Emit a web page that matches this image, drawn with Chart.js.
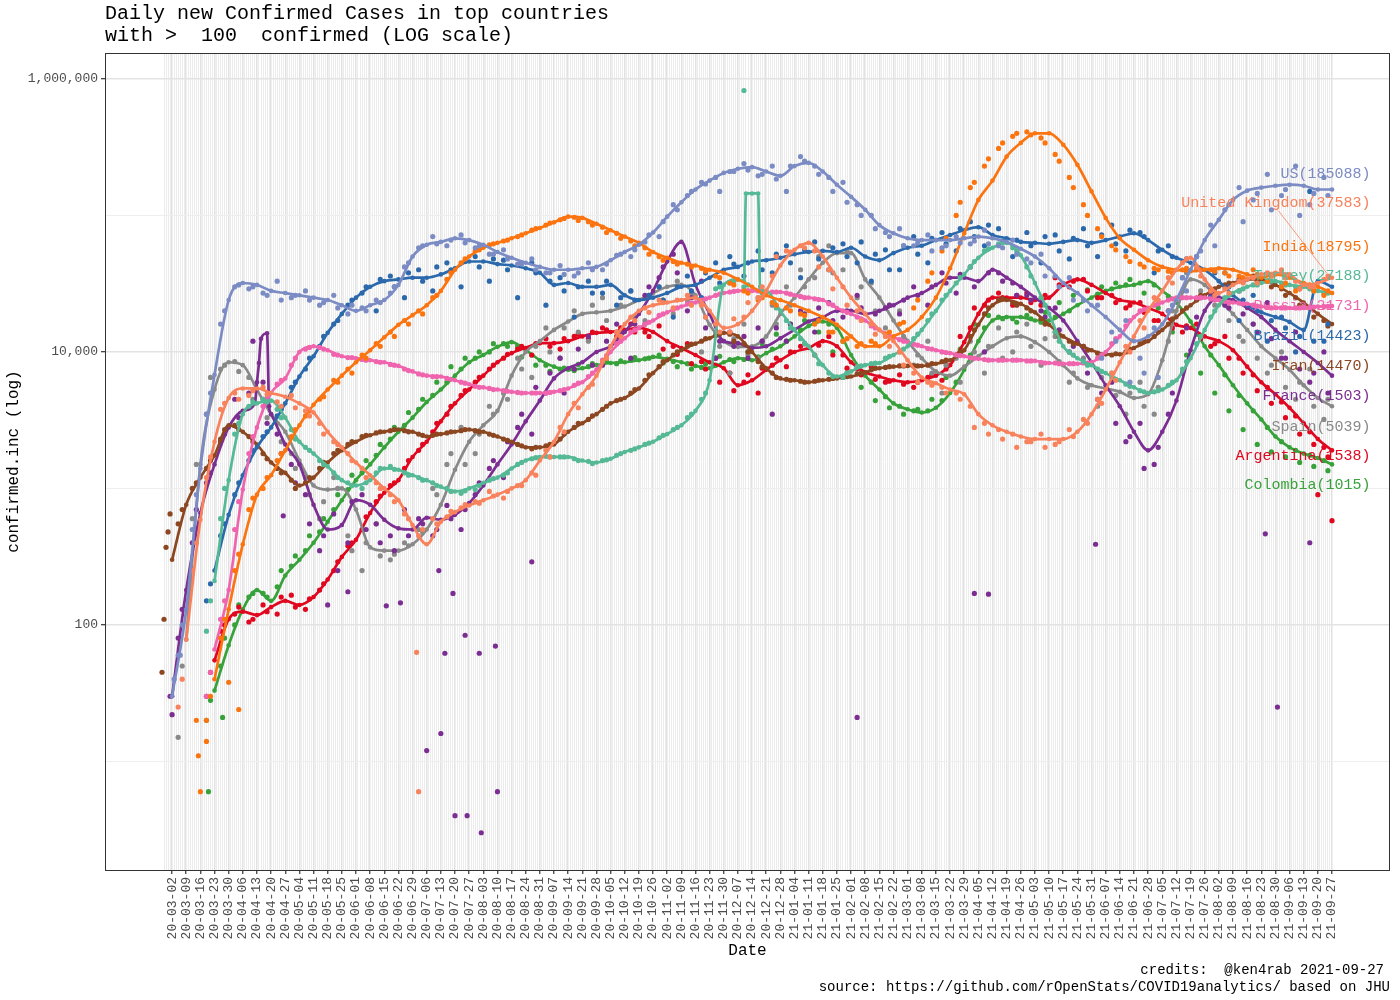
<!DOCTYPE html>
<html>
<head>
<meta charset="utf-8">
<title>Daily new Confirmed Cases in top countries</title>
<script src="https://cdn.jsdelivr.net/npm/chart.js@4.4.1/dist/chart.umd.min.js"></script>
<style>
  html, body { margin: 0; padding: 0; background: #fff; }
  #wrap { width: 1400px; height: 1000px; }
</style>
</head>
<body>
<div id="wrap"><canvas id="myChart" width="1400" height="1000"></canvas></div>
<script>
// countries and the value printed after their name (last day)
const countries = ['US', 'United Kingdom', 'India', 'Turkey', 'Russia', 'Brazil', 'Iran', 'France', 'Spain', 'Argentina', 'Colombia'];
const lastValues = [185088, 37583, 18795, 27188, 21731, 14423, 14470, 1503, 5039, 1538, 1015];

// day 0 = 2020-03-02 ; smoothed lines read weekly, dots read twice a week
const weekDays = Array.from({length: 83}, (_, k) => k * 7);
const dotDays = Array.from({length: 82}, (_, k) => 3 + k * 7);
const dotDays2 = Array.from({length: 82}, (_, k) => 5 + k * 7);

const usLine = [30, 130, 1400, 6800, 24000, 32000, 31000, 28000, 27000, 26000,
  25000, 24000, 22000, 20000, 22000, 24000, 31000, 50000, 61000, 64000,
  68000, 66000, 61000, 54000, 49000, 45000, 42000, 40000, 40000, 41000,
  42000, 47000, 54000, 61000, 75000, 98000, 125000, 155000, 180000, 205000,
  220000, 226000, 210000, 195000, 230000, 243000, 210000, 168000, 137000, 110000,
  85000, 74000, 68000, 66000, 66000, 66000, 68000, 70000, 68000, 64000,
  57000, 50000, 41000, 32000, 27000, 22000, 18000, 14500, 12000, 13000,
  16000, 24000, 40000, 66000, 93000, 130000, 152000, 160000, 165000, 168000,
  165000, 155000, 155000];
const ukLine = [null, 78, 590, 2200, 4600, 5400, 5400, 5000, 4700, 4200,
  3600, 2600, 2000, 1550, 1250, 1000, 820, 540, 390, 570,
  670, 750, 820, 900, 1000, 1150, 1600, 2200, 3500, 4900,
  6700, 11000, 16000, 20000, 22000, 23000, 24000, 25000, 20000, 15000,
  16000, 20000, 28000, 43000, 56000, 63000, 50000, 35000, 25000, 19000,
  14500, 12000, 8700, 6500, 5900, 5300, 4900, 3500, 2900, 2600,
  2400, 2300, 2300, 2300, 2600, 3500, 5300, 8400, 13000, 20000,
  28000, 40000, 49000, 34000, 27000, 31000, 34000, 37000, 38000, 37000,
  31000, 32000, 35000];
const indiaLine = [null, null, null, 40, 130, 390, 900, 1250, 1900, 2900,
  4100, 5300, 6700, 8400, 10300, 12800, 15800, 18600, 22000, 28000,
  40000, 50000, 58000, 63000, 68000, 74000, 81000, 89000, 98000, 96000,
  87000, 78000, 70000, 63000, 54000, 49000, 45000, 43000, 40000, 38000,
  34000, 30000, 26000, 24000, 22000, 20000, 18000, 15800, 13000, 11000,
  11000, 13000, 14500, 18000, 25000, 41000, 74000, 130000, 180000, 270000,
  340000, 400000, 400000, 330000, 235000, 150000, 96000, 68000, 56000, 47000,
  42000, 40000, 39000, 40000, 41000, 40000, 37000, 35000, 37000, 35000,
  32000, 30000, 27000];
const turkeyLine = [null, null, null, 210, 1150, 3500, 4200, 4400, 3300, 2200,
  1800, 1450, 1150, 1050, 1150, 1400, 1370, 1250, 1150, 1030,
  950, 1000, 1100, 1200, 1400, 1600, 1700, 1700, 1700, 1600,
  1550, 1650, 1850, 2000, 2200, 2500, 2900, 3700, 6200, 31000,
  34000, 145000, 28000, 20000, 14500, 11000, 8000, 6600, 7200, 8000,
  8300, 9500, 11000, 14500, 20000, 28000, 37000, 49000, 58000, 63000,
  51000, 32000, 19000, 11000, 9000, 8000, 7000, 6200, 5500, 5000,
  5300, 6200, 9000, 14500, 22000, 27000, 30000, 32000, 33000, 31000,
  30000, 28000, 27000];
const russiaLine = [null, null, null, 66, 180, 980, 2800, 5000, 6400, 10000,
  11000, 10300, 9300, 9000, 8700, 8400, 7900, 7200, 6700, 6600,
  6200, 5800, 5500, 5300, 5100, 5000, 5000, 5100, 5400, 6000,
  7400, 10000, 12600, 15000, 17000, 19500, 21500, 23000, 25000, 27000,
  28000, 28000, 27500, 27500, 26000, 25000, 24000, 21000, 19000, 17000,
  14500, 12800, 11800, 11000, 10300, 9800, 9300, 8900, 8700, 8700,
  8700, 8600, 8300, 8200, 8200, 8400, 10000, 13000, 18000, 21000,
  23000, 25000, 25000, 25000, 24000, 23000, 22500, 21500, 21000, 21000,
  21000, 21500, 21700];
const brazilLine = [null, null, null, 250, 640, 1250, 2000, 2800, 4200, 6600,
  9300, 13800, 19000, 25000, 30000, 33000, 34000, 35000, 35000, 37000,
  41000, 46000, 46000, 44000, 43000, 41000, 38000, 31000, 32000, 30000,
  30000, 31000, 26000, 24000, 25000, 27000, 30000, 31000, 35000, 40000,
  42000, 46000, 47000, 49000, 52000, 54000, 55000, 54000, 58000, 50000,
  47000, 53000, 58000, 60000, 66000, 72000, 78000, 82000, 72000, 68000,
  64000, 63000, 62000, 64000, 66000, 63000, 66000, 70000, 74000, 66000,
  56000, 49000, 45000, 40000, 33000, 26000, 22000, 19500, 18000, 16600,
  14500, 33000, 30000];
const iranLine = [300, 760, 1200, 1750, 2900, 2600, 2100, 1550, 1300, 1050,
  1200, 1550, 1900, 2200, 2450, 2600, 2700, 2600, 2400, 2500,
  2600, 2700, 2600, 2400, 2200, 2000, 2000, 2100, 2600, 3000,
  3500, 4200, 4600, 5400, 7000, 8700, 10300, 11500, 12600, 13800,
  13000, 10000, 7600, 6400, 6200, 6000, 6200, 6400, 6600, 7100,
  7600, 7800, 7900, 7900, 8200, 8700, 10300, 15800, 22000, 24000,
  22500, 19500, 15800, 13000, 11500, 10300, 9600, 9600, 10700, 12000,
  14500, 18000, 22000, 26000, 30000, 32000, 34000, 34000, 31000, 27000,
  23000, 19000, 16000];
const franceLine = [30, 180, 660, 1500, 2800, 3700, 6000, 3500, 2100, 1500,
  760, 500, 540, 820, 760, 590, 510, 500, 610, 590,
  640, 780, 1050, 1500, 2100, 3100, 4400, 6400, 7600, 8400,
  10000, 11000, 14000, 19000, 28000, 46000, 64000, 31000, 19000, 12000,
  11600, 10700, 11000, 12600, 14500, 16700, 18000, 20000, 20000, 19000,
  20000, 22000, 25000, 27000, 31000, 35000, 35000, 33000, 40000, 35000,
  30000, 25000, 21000, 17000, 12000, 8400, 5700, 4000, 2600, 1900,
  2600, 4400, 10300, 20000, 25000, 24000, 21000, 18000, 14500, 12000,
  10000, 8300, 6700];
const spainLine = [null, 78, 1500, 5300, 8400, 8000, 5300, 3500, 2600, 1600,
  1050, 980, 1000, 700, 370, 350, 350, 390, 500, 760,
  1370, 2200, 2900, 3700, 6700, 10000, 12000, 14500, 16700, 19000,
  19500, 20000, 21500, 24000, 27000, 30000, 31000, 26000, 15800, 12000,
  10900, 11000, 13000, 19000, 25000, 34000, 45000, 53000, 53000, 34000,
  25000, 17000, 12000, 9000, 7200, 6700, 7800, 9300, 11000, 12600,
  13000, 11800, 10000, 8000, 6400, 5700, 5400, 5100, 4600, 4900,
  8700, 20000, 34000, 31000, 24000, 19000, 14500, 11000, 9000, 7400,
  5700, 4600, 4000];
const argentinaLine = [null, null, null, 55, 110, 125, 118, 135, 150, 140,
  160, 215, 315, 420, 660, 930, 1150, 1700, 2200, 3100,
  4200, 5300, 6700, 8400, 9800, 10700, 11600, 11600, 12000, 13000,
  13800, 14000, 14500, 15000, 14000, 12000, 10700, 9500, 8400, 7600,
  5700, 6200, 7400, 8700, 10000, 10700, 12000, 11000, 8400, 7100,
  6600, 6200, 6000, 6200, 6700, 8000, 11800, 19000, 25000, 25000,
  25000, 24000, 25000, 31000, 34000, 31000, 27000, 24000, 23000, 21000,
  19000, 15800, 15000, 13000, 12000, 10300, 7800, 6000, 4900, 3900,
  3000, 2300, 1900];
const colombiaLine = [null, null, null, 33, 71, 130, 180, 150, 230, 300,
  400, 570, 820, 1150, 1500, 2000, 2600, 3300, 4300, 5300,
  6700, 8400, 9500, 10900, 11800, 10300, 8700, 7800, 7400, 7600,
  8000, 8300, 8400, 8700, 9200, 8900, 8400, 7900, 7600, 8400,
  9000, 8700, 9800, 11000, 13000, 15500, 16700, 15000, 9500, 6700,
  5300, 4200, 3800, 3600, 3900, 5000, 7400, 12000, 17000, 18000,
  18000, 17000, 17000, 19000, 22000, 25000, 28000, 30000, 31000, 33000,
  28000, 23000, 16700, 11000, 8000, 5700, 4200, 3200, 2400, 2000,
  1800, 1670, 1500];

// extra knots where a smoothed line jumps between weekly readings: [country, day, value]
const lineKnots = [
  ['Turkey', 283, 33000], ['Turkey', 284, 145000], ['Turkey', 290, 145000], ['Turkey', 291, 30000],
  ['France', 41, 4200], ['France', 43, 8300], ['France', 44, 12500], ['France', 47, 13700], ['France', 48, 4000]
];

// Thursday dots
const usDots = [60, 500, 3500, 16000, 30000, 29000, 27000, 33000, 25000, 28000,
  22000, 26000, 19000, 21000, 24000, 27000, 42000, 58000, 70000, 60000,
  72000, 58000, 52000, 56000, 44000, 48000, 38000, 43000, 36000, 45000,
  40000, 51000, 50000, 64000, 70000, 120000, 140000, 175000, 190000, 210000,
  240000, 195000, 230000, 150000, 270000, 230000, 190000, 175000, 120000, 100000,
  75000, 80000, 60000, 72000, 58000, 70000, 62000, 78000, 60000, 66000,
  48000, 52000, 36000, 35000, 24000, 22000, 14000, 17000, 9000, 15000,
  20000, 35000, 50000, 85000, 110000, 160000, 130000, 200000, 140000, 230000,
  120000, 190000];
const ukDots = [25, 250, 1200, 3800, 5000, 4800, 5500, 4300, 4800, 3700,
  3000, 2200, 1800, 1400, 1100, 900, 650, 450, 600, 620,
  720, 800, 950, 850, 1050, 1300, 1900, 2800, 4200, 5500,
  8500, 14000, 18000, 21000, 24000, 21000, 26000, 22000, 16000, 14000,
  18000, 25000, 36000, 55000, 60000, 55000, 40000, 30000, 20000, 16000,
  13000, 10000, 7000, 6000, 5500, 5000, 4000, 3000, 2700, 2500,
  2200, 2500, 2100, 2700, 3200, 4500, 7000, 11000, 17000, 25000,
  35000, 45000, 42000, 28000, 29000, 33000, 35000, 38000, 40000, 33000,
  30000, 34000];
const indiaDots = [null, null, 20, 80, 250, 700, 1000, 1600, 2400, 3400,
  4500, 6200, 7500, 9500, 11500, 14000, 17000, 20000, 25000, 34000,
  45000, 55000, 61000, 65000, 70000, 78000, 85000, 93000, 97000, 90000,
  82000, 74000, 65000, 58000, 50000, 46000, 44000, 41000, 36000, 32000,
  28000, 24000, 23000, 21000, 19000, 16000, 14000, 12000, 11000, 12000,
  13500, 16000, 21000, 33000, 55000, 100000, 160000, 230000, 310000, 380000,
  410000, 370000, 280000, 190000, 120000, 80000, 60000, 50000, 44000, 41000,
  39000, 40000, 42000, 40000, 38000, 36000, 40000, 33000, 30000, 28000,
  31000, 26000];
const turkeyDots = [null, null, 90, 600, 2500, 4000, 4500, 3800, 2700, 2000,
  1600, 1300, 1100, 1000, 1300, 1450, 1300, 1200, 1100, 1000,
  920, 980, 1150, 1250, 1500, 1650, 1720, 1700, 1650, 1580,
  1600, 1750, 1900, 2100, 2350, 2700, 3300, 4500, 29000, 32000,
  30000, 25000, 23000, 17000, 12500, 9500, 7000, 6500, 7800, 8200,
  9000, 10000, 12500, 17000, 24000, 32000, 42000, 55000, 62000, 58000,
  42000, 25000, 14000, 10000, 8500, 7500, 6500, 5800, 5200, 5100,
  5700, 7500, 11500, 18000, 25000, 28000, 31000, 33000, 32000, 30000,
  29000, 27000];
const russiaDots = [null, null, 30, 110, 500, 1800, 4000, 5800, 8000, 10500,
  10800, 9600, 9100, 8800, 8500, 8100, 7500, 6900, 6600, 6400,
  6000, 5600, 5400, 5200, 5050, 5000, 5000, 5200, 5700, 6600,
  8700, 11500, 14000, 16000, 18500, 20500, 22500, 24000, 26000, 27500,
  28500, 28000, 27500, 27000, 25500, 24500, 22500, 20000, 18000, 15500,
  13500, 12300, 11400, 10600, 10000, 9500, 9100, 8800, 8700, 8700,
  8600, 8400, 8300, 8200, 8300, 9000, 11500, 15500, 20000, 22000,
  24000, 25000, 25000, 24500, 23500, 22800, 22000, 21200, 21000, 21000,
  21200, 21500];
const brazilDots = [null, null, 150, 450, 900, 1600, 2400, 3400, 5500, 7500,
  11000, 16000, 22000, 27000, 20000, 36000, 25000, 40000, 28000, 45000,
  30000, 50000, 33000, 47000, 25000, 45000, 22000, 35000, 18000, 33000,
  27000, 22000, 28000, 16000, 30000, 18000, 36000, 25000, 45000, 50000,
  36000, 55000, 38000, 60000, 35000, 64000, 40000, 62000, 45000, 33000,
  56000, 40000, 70000, 45000, 75000, 55000, 90000, 60000, 80000, 50000,
  75000, 45000, 72000, 48000, 80000, 50000, 85000, 55000, 75000, 38000,
  60000, 35000, 50000, 25000, 38000, 17000, 26000, 12000, 18000, 10000,
  150000, 12000];
const iranDots = [550, 1000, 1400, 2300, 2900, 2400, 1800, 1400, 1150, 1100,
  1400, 1800, 2100, 2400, 2550, 2650, 2650, 2500, 2450, 2550,
  2650, 2650, 2500, 2300, 2100, 1950, 2050, 2300, 2800, 3200,
  3800, 4400, 5000, 6200, 7800, 9500, 11000, 12000, 13200, 13500,
  11500, 8500, 7000, 6300, 6100, 6100, 6300, 6500, 6900, 7400,
  7700, 7900, 7900, 8000, 8500, 9500, 13000, 19000, 24000, 23000,
  21000, 17500, 14000, 12000, 11000, 9800, 9500, 10000, 11500, 13000,
  16000, 20000, 24000, 28000, 31000, 34000, 36000, 33000, 29000, 25000,
  21000, 17000];
const franceDots = [80, 400, 1100, 2200, 4500, 5000, 6000, 2500, 1500, 900,
  350, 650, 400, 900, 550, 450, 700, 600, 450, 750,
  500, 900, 1400, 1200, 2800, 2500, 5000, 9000, 7500, 13000,
  8000, 16000, 9000, 26000, 35000, 52000, 20000, 33000, 9000, 14000,
  13000, 15000, 3500, 12000, 20000, 14000, 23000, 18000, 26000, 16000,
  21000, 19000, 30000, 22000, 38000, 27000, 42000, 10000, 38000, 32000,
  26000, 20000, 21000, 10000, 11000, 4500, 6000, 2200, 3000, 1500,
  3500, 7000, 18000, 26000, 22000, 28000, 16000, 23000, 9000, 14000,
  6000, 10000];
const spainDots = [15, 600, 3500, 7500, 8500, 6500, 4500, 3000, 1800, 1200,
  600, 1200, 450, 250, 550, 300, 400, 500, 1000, 1500,
  2800, 1800, 4000, 5000, 9000, 6500, 15000, 9000, 20000, 12000,
  25000, 14000, 28000, 17000, 30000, 19000, 24000, 10000, 14000, 7000,
  16000, 9000, 22000, 30000, 40000, 35000, 60000, 40000, 25000, 32000,
  15000, 20000, 8000, 12000, 5000, 9000, 12000, 7000, 15000, 10000,
  16000, 8000, 13000, 6000, 9000, 4000, 7000, 3500, 6000, 3500,
  12000, 28000, 40000, 25000, 30000, 13000, 16000, 7000, 10000, 4500,
  7500, 3200];
const argentinaDots = [null, null, 30, 90, 120, 105, 140, 120, 165, 130,
  180, 250, 380, 500, 800, 1050, 1400, 1900, 2600, 3500,
  4800, 6000, 7500, 9000, 10500, 9500, 12500, 10500, 13000, 12500,
  15000, 13000, 16000, 14000, 15500, 11000, 11500, 8500, 9000, 7000,
  6000, 5000, 8000, 7800, 11000, 9500, 13000, 9500, 7500, 7800,
  6000, 6800, 5500, 6500, 6200, 9500, 15000, 22000, 27000, 22000,
  27000, 22000, 35000, 30000, 34000, 25000, 26000, 21000, 23000, 17000,
  20000, 14000, 16000, 11000, 13000, 9000, 6800, 5500, 4300, 3400,
  2600, 2000];
const colombiaDots = [null, null, 20, 50, 100, 160, 170, 190, 270, 350,
  480, 700, 980, 1300, 1750, 2300, 2900, 3800, 4800, 6000,
  7500, 9000, 10000, 11500, 11000, 9500, 8000, 7500, 7300, 7800,
  8200, 8200, 8700, 8900, 9500, 8500, 8200, 7700, 8000, 8800,
  8800, 9200, 10500, 12000, 14500, 16500, 16000, 12000, 7800, 6000,
  4700, 4000, 3700, 3700, 4400, 6000, 9500, 15000, 18000, 17500,
  18500, 16500, 18000, 20000, 24000, 26500, 29000, 31000, 32000, 31000,
  25500, 20000, 13500, 9500, 6800, 4800, 3700, 2800, 2200, 1900,
  1750, 1600];

// Saturday dots
const usDots2 = [100, 900, 5000, 20000, 31000, 30000, 26000, 24000, 26000, 24000,
  23000, 21000, 22000, 20000, 23000, 30000, 45000, 60000, 62000, 66000,
  63000, 60000, 52000, 48000, 44000, 40000, 38000, 37000, 38000, 40000,
  44000, 52000, 56000, 72000, 90000, 110000, 150000, 170000, 150000, 210000,
  215000, 200000, 185000, 230000, 250000, 200000, 150000, 125000, 100000, 80000,
  70000, 60000, 63000, 55000, 60000, 63000, 65000, 62000, 58000, 52000,
  45000, 36000, 30000, 24000, 20000, 9000, 12000, 6000, 7000, 6500,
  22000, 28000, 55000, 60000, 120000, 90000, 145000, 110000, 155000, 100000,
  145000, 140000];
const ukDots2 = [40, 400, 1700, 4200, 4500, 5200, 4900, 4000, 3900, 3400,
  2500, 2100, 1600, 1200, 1000, 800, 600, 500, 550, 680,
  760, 780, 880, 950, 1050, 1250, 1700, 2600, 3900, 5800,
  9000, 13000, 17000, 19500, 23000, 24000, 22000, 18000, 14000, 17500,
  23000, 30000, 50000, 54000, 58000, 42000, 29000, 22000, 17000, 13500,
  11000, 8000, 6000, 5700, 5000, 4500, 2800, 2500, 2300, 2000,
  2200, 2000, 2200, 2400, 3000, 4200, 6200, 10000, 15000, 24000,
  32000, 48000, 36000, 26000, 27000, 32000, 32000, 36000, 35000, 29000,
  30000, 36000];
const indiaDots2 = [null, null, 30, 110, 330, 850, 1200, 1800, 2700, 3700,
  4700, 6000, 7000, 9000, 11000, 13000, 16000, 19000, 26000, 38000,
  48000, 56000, 62000, 66000, 72000, 80000, 88000, 95000, 92000, 85000,
  75000, 68000, 60000, 52000, 47000, 44000, 42000, 39000, 35000, 31000,
  27000, 25000, 22000, 20000, 18500, 17000, 14000, 12500, 11500, 11500,
  14000, 16500, 24000, 38000, 68000, 125000, 175000, 260000, 340000, 400000,
  390000, 340000, 250000, 160000, 100000, 70000, 56000, 46000, 42000, 40000,
  38000, 41000, 40000, 39000, 36000, 35000, 37000, 36000, 32000, 29000,
  28000, 28000];
const turkeyDots2 = [null, null, 150, 1000, 3000, 4300, 4300, 3300, 2300, 1900,
  1500, 1200, 1050, 1100, 1400, 1380, 1250, 1150, 1050, 950,
  960, 1050, 1180, 1300, 1550, 1680, 1700, 1700, 1600, 1520,
  1620, 1800, 1950, 2150, 2450, 2800, 3500, 5000, 30000, 33000,
  31000, 27000, 21000, 15000, 11500, 8200, 6600, 7000, 7900, 8300,
  9300, 10500, 13500, 19000, 26000, 35000, 46000, 57000, 63000, 55000,
  36000, 22000, 12000, 9500, 8000, 7200, 6300, 5600, 5100, 5200,
  6000, 8500, 13000, 20000, 26000, 29000, 31000, 33000, 31000, 29000,
  28000, 27000];
const russiaDots2 = [null, null, 45, 150, 800, 2400, 4600, 6200, 9000, 10800,
  10500, 9500, 9100, 8700, 8400, 8000, 7300, 6800, 6600, 6300,
  5900, 5500, 5300, 5150, 5000, 5000, 5050, 5300, 5900, 7000,
  9400, 12000, 14500, 16500, 19000, 21000, 22800, 24500, 26500, 27800,
  28200, 27700, 27500, 26500, 25000, 24200, 22000, 19500, 17500, 15000,
  13000, 12000, 11200, 10500, 9900, 9400, 9000, 8700, 8700, 8700,
  8600, 8300, 8200, 8200, 8300, 9500, 12500, 17000, 20500, 22500,
  24500, 25000, 25000, 24000, 23000, 22500, 21700, 21000, 21000, 21000,
  21300, 21600];
const brazilDots2 = [null, null, 200, 550, 1100, 1900, 2600, 3800, 6000, 9000,
  13000, 17000, 24000, 30000, 34000, 30000, 38000, 33000, 42000, 40000,
  46000, 42000, 48000, 40000, 45000, 38000, 33000, 28000, 30000, 27000,
  33000, 25000, 24000, 26000, 24000, 30000, 28000, 38000, 32000, 44000,
  45000, 40000, 52000, 45000, 56000, 48000, 58000, 50000, 64000, 52000,
  40000, 60000, 52000, 68000, 62000, 80000, 70000, 85000, 65000, 66000,
  60000, 70000, 55000, 68000, 60000, 72000, 62000, 78000, 70000, 55000,
  50000, 48000, 40000, 38000, 30000, 24000, 20000, 17000, 15000, 13000,
  12000, 16000];
const iranDots2 = [700, 1100, 1600, 2700, 2700, 2200, 1650, 1300, 1000, 1200,
  1550, 1900, 2200, 2450, 2600, 2700, 2600, 2450, 2500, 2600,
  2700, 2600, 2450, 2250, 2050, 2000, 2100, 2500, 3000, 3400,
  4000, 4500, 5300, 6800, 8500, 10000, 11400, 12500, 13600, 12000,
  10000, 7800, 6500, 6200, 6000, 6200, 6400, 6600, 7000, 7600,
  7800, 7900, 7900, 8200, 8700, 10000, 14500, 21000, 24500, 22000,
  20000, 16000, 13000, 11500, 10300, 9500, 9700, 10500, 12000, 14000,
  17500, 21000, 26000, 29000, 32000, 33000, 33000, 30000, 26000, 22000,
  18000, 15500];
const franceDots2 = [130, 700, 1300, 2500, 3300, 12000, 3000, 1800, 1100, 550,
  450, 250, 800, 500, 400, 350, 450, 550, 500, 600,
  700, 1100, 1600, 2200, 3500, 5500, 7000, 5000, 10500, 8000,
  12000, 14000, 16000, 30000, 42000, 38000, 25000, 15000, 12000, 11000,
  9000, 12000, 15000, 16000, 19000, 21000, 17000, 20000, 21000, 19000,
  22000, 24000, 26000, 30000, 32000, 37000, 30000, 38000, 33000, 26000,
  24000, 18000, 14500, 11000, 7000, 5000, 3000, 2400, 1400, 2000,
  5000, 15000, 25000, 27000, 21000, 19000, 14000, 12500, 9000, 7500,
  7000, 5000];
const spainDots2 = [50, 1500, 6500, 8000, 7200, 4500, 3300, 2200, 1400, 900,
  800, 1000, 350, 400, 320, 330, 380, 480, 900, 1800,
  1500, 2500, 3500, 4500, 7500, 11000, 10000, 15000, 14000, 22000,
  17000, 22000, 18000, 26000, 24000, 33000, 27000, 18000, 11000, 12500,
  9500, 12000, 16000, 22000, 30000, 50000, 38000, 55000, 30000, 20000,
  22000, 13000, 9500, 7000, 8000, 6000, 10000, 11000, 9000, 14000,
  11000, 12500, 8500, 7000, 5500, 6500, 4800, 5000, 4000, 5500,
  20000, 38000, 28000, 22000, 17000, 12000, 9000, 8000, 5500, 6000,
  4000, 4500];
const argentinaDots2 = [null, null, 45, 100, 135, 110, 125, 160, 135, 155,
  200, 290, 400, 620, 880, 1100, 1600, 2100, 3000, 4000,
  5200, 6500, 8000, 9600, 11000, 11500, 11000, 12500, 13500, 14000,
  14500, 15000, 14000, 13000, 10500, 9600, 8200, 7500, 6000, 5200,
  6800, 7600, 9000, 10000, 11500, 11200, 9500, 7600, 6800, 6300,
  6100, 5800, 6000, 6800, 7500, 13000, 21000, 24000, 25000, 26000,
  23000, 26000, 31000, 33000, 28000, 25000, 23000, 22000, 19500, 17000,
  15000, 15500, 12500, 11500, 9000, 7000, 5200, 4200, 3300, 2500,
  2100, 1700];
const colombiaDots2 = [null, null, 28, 80, 140, 170, 160, 250, 320, 450,
  600, 900, 1250, 1600, 2100, 2800, 3600, 4500, 6000, 7800,
  9000, 10000, 11500, 11000, 9200, 8000, 7200, 7600, 8100, 8200,
  8500, 8600, 9100, 9000, 8300, 7800, 7500, 8200, 9300, 8500,
  10000, 11500, 13500, 16000, 17000, 14000, 10000, 7000, 5500, 4400,
  3900, 3500, 3800, 4500, 6500, 10500, 16000, 18500, 17500, 16500,
  17500, 19500, 23000, 26000, 28500, 30000, 32000, 34000, 27000, 21000,
  14000, 9500, 7000, 5000, 3700, 2700, 2100, 1850, 1700, 1550,
  1450, 1350];

// single days that stand far from their series: [country, day, value]
const extraPts = [
  ['Turkey', 283, 823000],
  ['France', -1, 30], ['France', 0, 22], ['France', 55, 630], ['France', 77, 140], ['France', 87, 175],
  ['France', 106, 138], ['France', 113, 145], ['France', 126, 12], ['France', 132, 250], ['France', 133, 16],
  ['France', 135, 62], ['France', 139, 170], ['France', 140, 4], ['France', 145, 84], ['France', 146, 4],
  ['France', 152, 62], ['France', 153, 3], ['France', 160, 70], ['France', 161, 6], ['France', 178, 290],
  ['France', 339, 21], ['France', 397, 170], ['France', 404, 168], ['France', 457, 390], ['France', 541, 465],
  ['France', 547, 25], ['France', 563, 400],
  ['India', 12, 20], ['India', 13, 11], ['India', 14, 6], ['India', 17, 14], ['India', 28, 38], ['India', 33, 24],
  ['United Kingdom', 121, 63], ['United Kingdom', 122, 6],
  ['Colombia', 18, 6], ['Colombia', 25, 21],
  ['Iran', -5, 45], ['Iran', -4, 110], ['Iran', -3, 370], ['Iran', -2, 480], ['Iran', -1, 650],
  ['US', 1, 40], ['US', 4, 60],
  ['Argentina', 567, 900], ['Argentina', 574, 580]
];

// where the repelled name labels sit (value units) at the right edge
const labelLevels = [201000, 124000, 58700, 36000, 21700, 13100, 7900, 4760, 2820, 1730, 1060];
const yLabelTicks = [100, 10000, 1000000];
const yAllTicks = [10, 100, 1000, 10000, 100000, 1000000];

const lineVals = [usLine, ukLine, indiaLine, turkeyLine, russiaLine, brazilLine, iranLine, franceLine, spainLine, argentinaLine, colombiaLine];
const dotVals = [usDots, ukDots, indiaDots, turkeyDots, russiaDots, brazilDots, iranDots, franceDots, spainDots, argentinaDots, colombiaDots];
const dotVals2 = [usDots2, ukDots2, indiaDots2, turkeyDots2, russiaDots2, brazilDots2, iranDots2, franceDots2, spainDots2, argentinaDots2, colombiaDots2];

const seriesColors = ['#7b8bc4', '#f8825c', '#fb7410', '#55b996', '#f064ae', '#2b69ac', '#8c4620', '#7b2d91', '#898989', '#e0071f', '#37a23a'];

const mono = "'Liberation Mono', 'DejaVu Sans Mono', monospace";
Chart.defaults.font.family = mono;

function dayLabel(d) {
  const t = new Date(Date.UTC(2020, 2, 2) + d * 86400000);
  const p = n => String(n).padStart(2, '0');
  return p(t.getUTCFullYear() % 100) + '-' + p(t.getUTCMonth() + 1) + '-' + p(t.getUTCDate());
}
const isWeekTick = v => v >= 0 && v % 7 === 0;
const pairUp = (xs, ys) => xs.map((d, k) => ({x: d, y: ys[k]}));

const datasets = [];
countries.forEach((name, i) => {
  const col = seriesColors[i];
  const dots = pairUp(dotDays, dotVals[i]).concat(pairUp(dotDays2, dotVals2[i]))
    .filter(p => p.y != null)
    .concat(extraPts.filter(e => e[0] === name).map(e => ({x: e[1], y: e[2]})));
  const line = pairUp(weekDays, lineVals[i])
    .concat(lineKnots.filter(e => e[0] === name).map(e => ({x: e[1], y: e[2]})))
    .sort((a, b) => a.x - b.x);
  datasets.push({
    label: name + ' daily',
    data: dots,
    showLine: false,
    pointRadius: 2.6,
    pointBorderWidth: 0,
    pointBackgroundColor: col,
    borderColor: col
  });
  datasets.push({
    label: name,
    data: line,
    borderColor: col,
    borderWidth: 2.7,
    pointRadius: 2.3,
    pointBorderWidth: 0,
    pointBackgroundColor: col,
    cubicInterpolationMode: 'monotone',
    spanGaps: false
  });
});

const decor = {
  id: 'decor',
  beforeDraw(chart) {
    const c = chart.ctx;
    c.save();
    c.fillStyle = '#ffffff';
    c.fillRect(0, 0, chart.width, chart.height);
    c.restore();
  },
  afterDatasetsDraw(chart) {
    const c = chart.ctx;
    const xs = chart.scales.x, ys = chart.scales.y;
    c.save();
    c.font = '15px ' + mono;
    c.textAlign = 'right';
    c.textBaseline = 'middle';
    const lx = xs.getPixelForValue(593);
    countries.forEach((name, i) => {
      const ly = ys.getPixelForValue(labelLevels[i]);
      c.fillStyle = seriesColors[i];
      c.fillText(name + '(' + lastValues[i] + ')', lx, ly);
      if (name === 'United Kingdom') {
        c.strokeStyle = seriesColors[i];
        c.lineWidth = 0.8;
        c.beginPath();
        c.moveTo(lx - 92, ly + 8);
        c.lineTo(xs.getPixelForValue(574) - 5, ys.getPixelForValue(lastValues[i]));
        c.stroke();
      }
    });
    c.restore();
  },
  afterDraw(chart) {
    const c = chart.ctx;
    const a = chart.chartArea;
    c.save();
    c.strokeStyle = '#333333';
    c.lineWidth = 1;
    c.strokeRect(Math.round(a.left) + 0.5, Math.round(a.top) + 0.5, Math.round(a.right - a.left) - 1, Math.round(a.bottom - a.top));
    c.fillStyle = '#000000';
    c.font = '20px ' + mono;
    c.textAlign = 'left';
    c.textBaseline = 'middle';
    c.fillText('Daily new Confirmed Cases in top countries', a.left, 14);
    c.fillText('with >  100  confirmed (LOG scale)', a.left, 36);
    c.font = '14px ' + mono;
    c.textAlign = 'right';
    c.fillText('credits:  @ken4rab 2021-09-27', 1384, 970);
    c.fillText('source: https://github.com/rOpenStats/COVID19analytics/ based on JHU', 1390, 987);
    c.restore();
  }
};

const ctx = document.getElementById('myChart');
const grafica = new Chart(ctx, {
  type: 'line',
  data: {datasets: datasets},
  options: {
    responsive: false,
    animation: false,
    devicePixelRatio: 1,
    events: [],
    layout: {padding: {top: 53, left: 0, right: 10, bottom: 40}},
    plugins: {legend: {display: false}, tooltip: {enabled: false}, title: {display: false}},
    scales: {
      x: {
        type: 'linear',
        min: -33.2,
        max: 602.7,
        afterBuildTicks: s => {
          const t = [];
          for (let d = -4; d <= 574; d++) t.push({value: d});
          s.ticks = t;
        },
        afterFit: s => { s.height = 90; },
        ticks: {
          autoSkip: false,
          minRotation: 90,
          maxRotation: 90,
          padding: 3,
          color: '#4d4d4d',
          font: {size: 13},
          callback: v => isWeekTick(v) ? dayLabel(v) : ''
        },
        grid: {
          color: c => isWeekTick(c.tick.value) ? '#e2e2e2' : '#ececec',
          lineWidth: c => isWeekTick(c.tick.value) ? 1.5 : 1,
          tickColor: c => isWeekTick(c.tick.value) ? '#333333' : 'rgba(0,0,0,0)',
          tickLength: 4,
          tickWidth: 1.2
        },
        border: {display: false},
        title: {display: true, text: 'Date', color: '#000', font: {size: 16}, padding: {top: 0, bottom: 0}}
      },
      y: {
        type: 'logarithmic',
        min: 1.6,
        max: 1550000,
        afterBuildTicks: s => { s.ticks = yAllTicks.map(v => ({value: v})); },
        afterFit: s => { s.width = 105; },
        ticks: {
          color: '#4d4d4d',
          font: {size: 13},
          padding: 3,
          callback: v => yLabelTicks.includes(v) ? v.toLocaleString('en-US') : ''
        },
        grid: {
          color: c => yLabelTicks.includes(c.tick.value) ? '#e3e3e3' : '#eeeeee',
          lineWidth: c => yLabelTicks.includes(c.tick.value) ? 1.4 : 1,
          tickColor: c => yLabelTicks.includes(c.tick.value) ? '#333333' : 'rgba(0,0,0,0)',
          tickLength: 4,
          tickWidth: 1.2
        },
        border: {display: false},
        title: {display: true, text: 'confirmed.inc (log)', color: '#000', font: {size: 16}, padding: {top: 4, bottom: 0}}
      }
    }
  },
  plugins: [decor]
});
</script>
</body>
</html>
